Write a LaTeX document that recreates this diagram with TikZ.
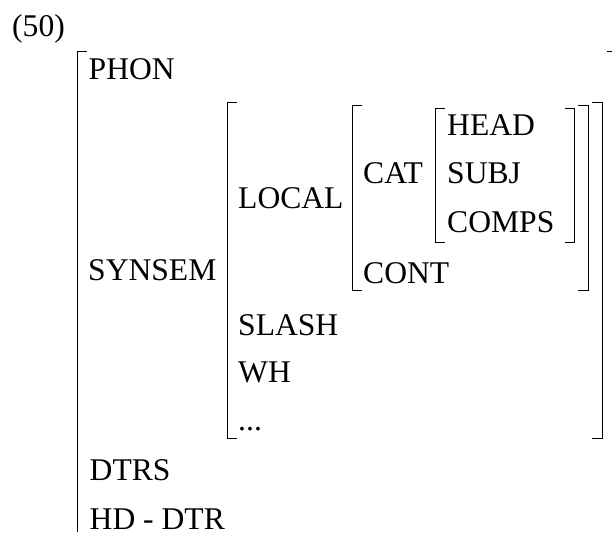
\documentclass[tikz,border=0pt]{standalone}
\usepackage{fontspec}
\setmainfont{Liberation Serif}
\usepackage{tikz}
\usetikzlibrary{positioning}

\begin{document}
\begin{tikzpicture}[
    x=1pt, y=-1pt,
    feat/.style={anchor=base west, inner sep=0pt, font=\fontsize{31.6}{38}\selectfont},
    brk/.style={draw, line width=1pt, line cap=butt}
]
    \useasboundingbox (0,0) rectangle (612,532);

    % example number
    \node[feat] (exnum) at (12,37) {(50)};

    % top level attributes
    \node[feat] (phon) at (88.5,80) {PHON};
    \node[feat] (synsem) at (88,280) {SYNSEM};
    \node[feat] (dtrs) at (89.5,480) {DTRS};
    \node[feat] (hddtr) at (89.5,529) {HD - DTR};

    % synsem value
    \node[feat] (local) at (238,208) {LOCAL};
    \node[feat] (slash) at (238,335) {SLASH};
    \node[feat] (wh) at (238,382) {WH};
    \node[feat] (more) at (238,430) {...};

    % local value
    \node[feat] (cat) at (363,183) {CAT};
    \node[feat] (cont) at (363,283) {CONT};

    % cat value
    \node[feat] (head) at (447,135) {HEAD};
    \node[feat] (subj) at (447,183) {SUBJ};
    \node[feat] (comps) at (447,232) {COMPS};

    % Brackets
    \path[brk] (87,52) -- (77,52) -- (77,532);
    \path[brk] (607,52) -- (612,52);
    \path[brk] (237,103) -- (227,103) -- (227,438) -- (237,438);
    \path[brk] (592,103) -- (602,103) -- (602,438) -- (592,438);
    \path[brk] (362,106) -- (352,106) -- (352,290) -- (362,290);
    \path[brk] (578,106) -- (588,106) -- (588,290) -- (578,290);
    \path[brk] (445,108) -- (435,108) -- (435,242) -- (445,242);
    \path[brk] (565,108) -- (574,108) -- (574,242) -- (565,242);
\end{tikzpicture}
\end{document}
